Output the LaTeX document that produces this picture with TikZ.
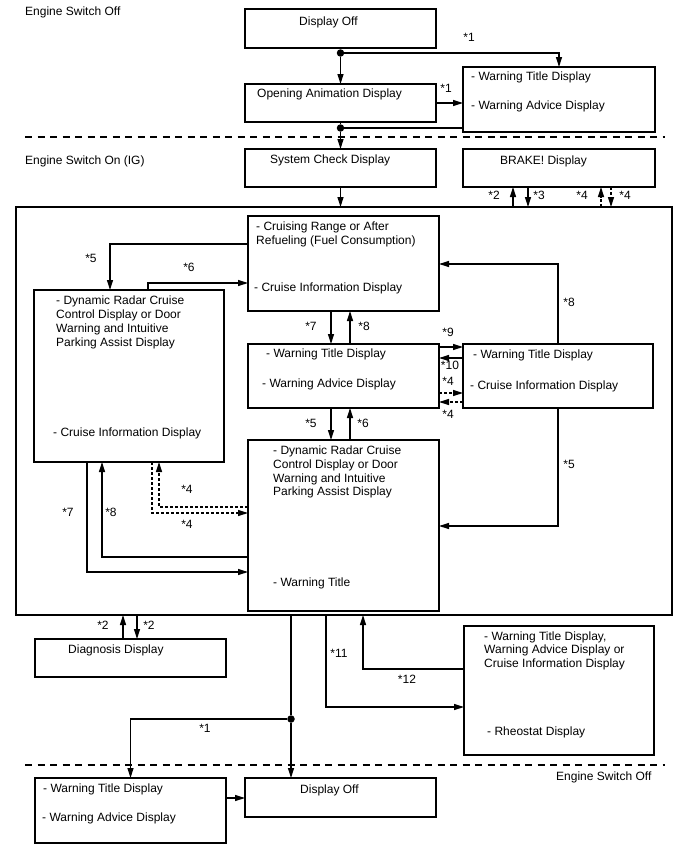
\documentclass[tikz,border=0pt]{standalone}
\usepackage{fontspec}
\setmainfont{Liberation Sans}
\usetikzlibrary{arrows.meta}
\begin{document}
\begin{tikzpicture}[x=1bp,y=-1bp,
  box/.style={draw, line width=1.5bp, rectangle, anchor=north west, inner sep=0, outer sep=0},
  txt/.style={anchor=base west, inner sep=0, font=\fontsize{12bp}{14bp}\selectfont},
  lbl/.style={inner sep=0, font=\fontsize{12bp}{14bp}\selectfont},
  conn/.style={line width=1.25bp},
  arr/.style={conn, -{Triangle[length=10bp,width=6bp]}},
  dashfour/.style={dash pattern=on 3bp off 2bp},
  separator/.style={line width=1.6bp, dash pattern=on 7bp off 5.5bp},
  dotnode/.style={circle, fill, inner sep=0, minimum size=7.5bp}]
\useasboundingbox (0,0) rectangle (688,852);

% ---------- boxes ----------
\node[box, minimum width=191bp, minimum height=39bp] (offA) at (245,9) {};
\node[box, minimum width=191bp, minimum height=38bp] (opening) at (245,84) {};
\node[box, minimum width=192bp, minimum height=65bp] (warnA) at (463,67) {};
\node[box, minimum width=191bp, minimum height=38bp] (syscheck) at (245,149) {};
\node[box, minimum width=192bp, minimum height=38bp] (brake) at (463,149) {};
\node[box, minimum width=656bp, minimum height=408bp] (big) at (16,207) {};
\node[box, minimum width=191bp, minimum height=95bp] (cruise) at (248,216) {};
\node[box, minimum width=190bp, minimum height=172bp] (leftdrcc) at (34,290) {};
\node[box, minimum width=191bp, minimum height=64bp] (midwarn) at (248,344) {};
\node[box, minimum width=190bp, minimum height=64bp] (rightwarn) at (463,344) {};
\node[box, minimum width=191bp, minimum height=171bp] (centerdrcc) at (248,440) {};
\node[box, minimum width=191bp, minimum height=38bp] (diag) at (35,639) {};
\node[box, minimum width=190bp, minimum height=129bp] (rheo) at (464,626) {};
\node[box, minimum width=191bp, minimum height=65bp] (warnB) at (35,778) {};
\node[box, minimum width=191bp, minimum height=39bp] (offB) at (245,778) {};

% ---------- texts ----------
\node[txt] (tEngOffA) at (25,15) {Engine Switch Off};
\node[txt] (tEngOn) at (25,164) {Engine Switch On (IG)};
\node[txt] (tEngOffB) at (556,780) {Engine Switch Off};

\node[txt] (tOffA) at (299,25) {Display Off};
\node[txt] (tOpening) at (257,97) {Opening Animation Display};
\node[txt] (tWarnA1) at (471,80) {- Warning Title Display};
\node[txt] (tWarnA2) at (471,109) {- Warning Advice Display};
\node[txt] (tSys) at (270,163) {System Check Display};
\node[txt] (tBrake) at (500,164) {BRAKE! Display};

\node[txt] (tCr1) at (256,230) {- Cruising Range or After};
\node[txt] (tCr2) at (256,244) {Refueling (Fuel Consumption)};
\node[txt] (tCr3) at (254,291) {- Cruise Information Display};

\node[txt] (tL1) at (56,304) {- Dynamic Radar Cruise};
\node[txt] (tL2) at (56,318) {Control Display or Door};
\node[txt] (tL3) at (56,332) {Warning and Intuitive};
\node[txt] (tL4) at (56,346) {Parking Assist Display};
\node[txt] (tL5) at (53,436) {- Cruise Information Display};

\node[txt] (tM1) at (266,357) {- Warning Title Display};
\node[txt] (tM2) at (262,387) {- Warning Advice Display};

\node[txt] (tR1) at (473,358) {- Warning Title Display};
\node[txt] (tR2) at (470,389) {- Cruise Information Display};

\node[txt] (tC1) at (273,454) {- Dynamic Radar Cruise};
\node[txt] (tC2) at (273,468) {Control Display or Door};
\node[txt] (tC3) at (273,482) {Warning and Intuitive};
\node[txt] (tC4) at (273,495) {Parking Assist Display};
\node[txt] (tC5) at (273,586) {- Warning Title};

\node[txt] (tDiag) at (68,653) {Diagnosis Display};

\node[txt] (tN1) at (484,640) {- Warning Title Display,};
\node[txt] (tN2) at (484,653) {Warning Advice Display or};
\node[txt] (tN3) at (484,667) {Cruise Information Display};
\node[txt] (tN4) at (487,735) {- Rheostat Display};

\node[txt] (tWB1) at (43,792) {- Warning Title Display};
\node[txt] (tWB2) at (42,821) {- Warning Advice Display};
\node[txt] (tOffB) at (300,793) {Display Off};

% ---------- separators ----------
\coordinate (sA1) at (25,137);
\coordinate (sA2) at (665,137);
\coordinate (sB1) at (25,765);
\coordinate (sB2) at (665,765);
\draw[separator] (sA1) -- (sA2);
\draw[separator] (sB1) -- (sB2);

% ---------- top connectors ----------
\node[dotnode] (d1) at ([yshift=-5bp]offA.south) {};
\draw[conn] (offA.south) -- (d1);
\draw[arr] (d1) -- (opening.north);
\draw[arr] (d1) -| (warnA.north);
\draw[arr] (opening.east) -- (opening.east -| warnA.west);
\node[dotnode] (d2) at ([yshift=-6bp]opening.south) {};
\draw[conn] (opening.south) -- (d2);
\draw[conn] (warnA.west |- d2) -- (d2);
\draw[arr] (d2) -- (syscheck.north);
\draw[arr] (syscheck.south) -- (syscheck.south |- big.north);

\coordinate (b2) at ([xshift=-46bp]brake.south);
\coordinate (b3) at ([xshift=-31bp]brake.south);
\coordinate (b4a) at ([xshift=42bp]brake.south);
\coordinate (b4b) at ([xshift=52bp]brake.south);
\draw[arr] (b2 |- big.north) -- (b2);
\draw[arr] (b3) -- (b3 |- big.north);
\draw[arr, dashfour] (b4a |- big.north) -- (b4a);
\draw[arr, dashfour] (b4b) -- (b4b |- big.north);

% ---------- main box connectors ----------
\draw[arr] ([yshift=-28bp]cruise.north west) -| ([xshift=76bp]leftdrcc.north west);
\draw[arr] ([xshift=114bp]leftdrcc.north west) |- ([yshift=-67bp]cruise.north west);

\coordinate (c7) at ([xshift=-12.5bp]cruise.south);
\coordinate (c8) at ([xshift=6.5bp]cruise.south);
\draw[arr] (c7) -- (c7 |- midwarn.north);
\draw[arr] (c8 |- midwarn.north) -- (c8);

\draw[arr] (rightwarn.north) |- ([yshift=-48bp]cruise.north east);

\coordinate (h9) at ([yshift=-3bp]midwarn.north east);
\coordinate (h10) at ([yshift=-14bp]midwarn.north east);
\coordinate (h4a) at ([yshift=-49bp]midwarn.north east);
\coordinate (h4b) at ([yshift=-58bp]midwarn.north east);
\draw[arr] (h9) -- (h9 -| rightwarn.west);
\draw[arr] (h10 -| rightwarn.west) -- (h10);
\draw[arr, dashfour] (h4a) -- (h4a -| rightwarn.west);
\draw[arr, dashfour] (h4b -| rightwarn.west) -- (h4b);

\coordinate (h5) at ([xshift=-12.5bp]midwarn.south);
\coordinate (h6) at ([xshift=6.5bp]midwarn.south);
\draw[arr] (h5) -- (h5 |- centerdrcc.north);
\draw[arr] (h6 |- centerdrcc.north) -- (h6);

\draw[arr] (rightwarn.south) |- ([yshift=-86bp]centerdrcc.north east);

\draw[arr, dashfour] ([xshift=118bp]leftdrcc.south west) |- ([yshift=-73bp]centerdrcc.north west);
\draw[arr, dashfour] ([yshift=-67bp]centerdrcc.north west) -| ([xshift=125bp]leftdrcc.south west);
\draw[arr] ([yshift=-117bp]centerdrcc.north west) -| ([xshift=68bp]leftdrcc.south west);
\draw[arr] ([xshift=53bp]leftdrcc.south west) |- ([yshift=-132bp]centerdrcc.north west);

% ---------- bottom connectors ----------
\coordinate (k1) at ([xshift=-7.5bp]diag.north);
\coordinate (k2) at ([xshift=6.5bp]diag.north);
\draw[arr] (k1) -- (k1 |- big.south);
\draw[arr] (k2 |- big.south) -- (k2);

\coordinate (e1) at ([xshift=-53bp]big.south);
\node[dotnode] (d3) at ([yshift=-104bp]e1) {};
\draw[conn] (e1) -- (d3);
\draw[arr] (d3) -- (d3 |- offB.north);
\draw[arr] (d3) -| (warnB.north);
\coordinate (lb) at ([yshift=-20bp]warnB.north east);
\draw[arr] (lb) -- (lb -| offB.west);

\draw[arr] ([xshift=-18bp]big.south) |- ([yshift=-81bp]rheo.north west);
\draw[arr] ([yshift=-43bp]rheo.north west) -| ([xshift=19bp]big.south);

% ---------- star labels ----------
\node[lbl] (s1a) at (469,37) {*1};
\node[lbl] (s1b) at (446,88) {*1};
\node[lbl] (s2a) at (494,195) {*2};
\node[lbl] (s3a) at (539,195) {*3};
\node[lbl] (s4a) at (582,195) {*4};
\node[lbl] (s4b) at (625,195) {*4};
\node[lbl] (s5a) at (91,258) {*5};
\node[lbl] (s6a) at (189,267) {*6};
\node[lbl] (s7a) at (311,326) {*7};
\node[lbl] (s8a) at (364,326) {*8};
\node[lbl] (s8b) at (569,302) {*8};
\node[lbl] (s9) at (448,332) {*9};
\node[lbl] (s10) at (450,365) {*10};
\node[lbl] (s4c) at (448,381) {*4};
\node[lbl] (s4d) at (448,414) {*4};
\node[lbl] (s5b) at (311,423) {*5};
\node[lbl] (s6b) at (363,423) {*6};
\node[lbl] (s5c) at (569,464) {*5};
\node[lbl] (s4e) at (187,489) {*4};
\node[lbl] (s4f) at (187,524) {*4};
\node[lbl] (s7b) at (68,512) {*7};
\node[lbl] (s8c) at (111,512) {*8};
\node[lbl] (s2b) at (103,625) {*2};
\node[lbl] (s2c) at (149,625) {*2};
\node[lbl] (s11) at (339,653) {*11};
\node[lbl] (s12) at (407,679) {*12};
\node[lbl] (s1c) at (205,728) {*1};
\end{tikzpicture}
\end{document}
